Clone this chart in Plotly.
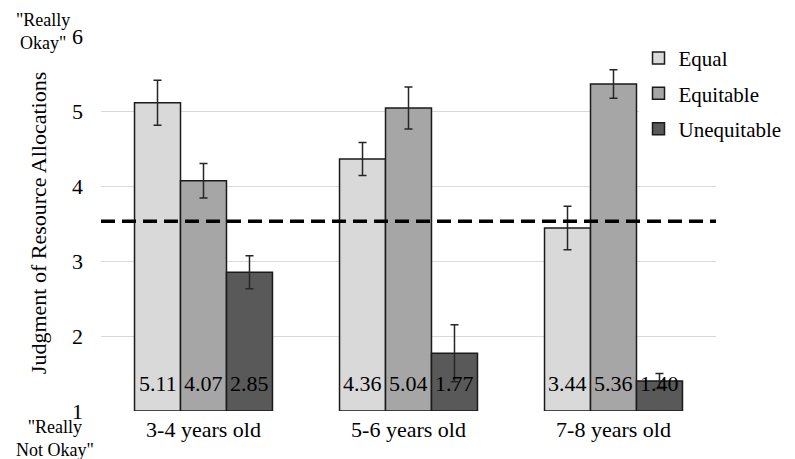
import plotly.graph_objects as go

categories = ["3-4 years old", "5-6 years old", "7-8 years old"]
series_names = ["Equal", "Equitable", "Unequitable"]
equal_vals = [5.11, 4.36, 3.44]
equitable_vals = [4.07, 5.04, 5.36]
unequitable_vals = [2.85, 1.77, 1.40]
equal_err = [0.30, 0.22, 0.29]
equitable_err = [0.23, 0.28, 0.19]
unequitable_err = [0.22, 0.38, 0.10]
midpoint = 3.53
y_ticks = [1, 2, 3, 4, 5, 6]

colors = ["#d9d9d9", "#a6a6a6", "#595959"]
FONT = "Liberation Serif"
FS = 22
BAR_PX = 46  # pixel width of one bar within a group (style)

fig = go.Figure()
all_vals = [equal_vals, equitable_vals, unequitable_vals]
all_errs = [equal_err, equitable_err, unequitable_err]
for name, vals, errs, col in zip(series_names, all_vals, all_errs, colors):
    fig.add_trace(go.Bar(
        name=name, x=categories, y=[v - 1 for v in vals], base=1,
        legendgroup=name,
        marker=dict(color=col, line=dict(color="#1a1a1a", width=1.5)),
        error_y=dict(type="data", array=errs, color="#262626", thickness=1.5, width=4),
        hoverinfo="skip",
    ))

# value labels near the bottom of each bar
for i, vals in enumerate(all_vals):
    for cat, v in zip(categories, vals):
        fig.add_annotation(text=f"{v:.2f}", x=cat, y=1, xref="x", yref="y",
                           xshift=(i - 1) * BAR_PX, yshift=28,
                           showarrow=False, xanchor="center", yanchor="middle",
                           font=dict(family=FONT, size=FS, color="#000000"))

fig.add_shape(type="line", xref="paper", yref="y", x0=0, x1=1,
              y0=midpoint, y1=midpoint,
              line=dict(color="#000000", width=3.5, dash="14px,7px"))

ann_font = dict(family=FONT, size=18, color="#000000")
fig.add_annotation(text="\"Really<br>Okay\"", xref="paper", yref="paper",
                   x=-0.0943, y=1.011, showarrow=False, font=ann_font,
                   xanchor="center", yanchor="middle", align="center")
fig.add_annotation(text="\"Really<br>Not Okay\"", xref="paper", yref="paper",
                   x=-0.0748, y=-0.072, showarrow=False, font=ann_font,
                   xanchor="center", yanchor="middle", align="center")

fig.add_annotation(text="Judgment of Resource Allocations", xref="paper", yref="paper",
                   x=-0.1024, y=0.501, textangle=-90, showarrow=False,
                   font=dict(family=FONT, size=FS, color="#000000"),
                   xanchor="center", yanchor="middle")

fig.update_layout(
    width=795, height=459,
    margin=dict(l=93, r=87, t=28, b=56, autoexpand=False),
    paper_bgcolor="white", plot_bgcolor="white",
    barmode="group", bargap=0.327, bargroupgap=0,
    font=dict(family=FONT, size=FS, color="#000000"),
    showlegend=True,
    legend=dict(x=0.874, y=0.995, xanchor="left", yanchor="top",
                font=dict(family=FONT, size=21, color="#000000"),
                bgcolor="white", itemwidth=30, traceorder="grouped",
                tracegroupgap=5),
    xaxis=dict(showgrid=False, showline=False, ticks="", ticklabelstandoff=3,
               tickfont=dict(family=FONT, size=FS, color="#000000")),
    yaxis=dict(range=[1, 6], tickvals=y_ticks, showgrid=True, gridcolor="#d9d9d9",
               gridwidth=1, zeroline=False, showline=False, ticks="",
               ticklabelstandoff=17,
               tickfont=dict(family=FONT, size=FS, color="#000000")),
)

fig.write_html("out.html")
